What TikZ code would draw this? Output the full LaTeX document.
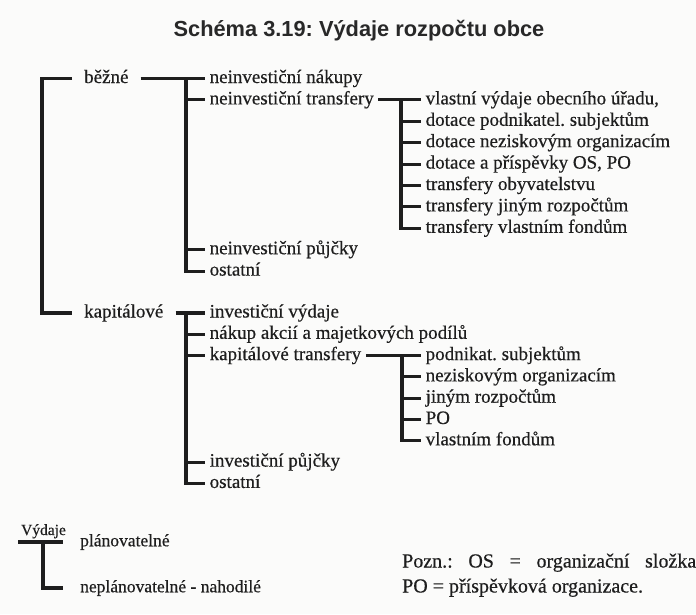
\documentclass[tikz,border=0pt]{standalone}
\usepackage{fontspec}
\setmainfont{Liberation Serif}[FakeBold=0.45]
\newfontfamily\titlefont{Liberation Sans}
\definecolor{inkc}{RGB}{30,30,30}
\definecolor{bgc}{RGB}{251,251,250}
\definecolor{titlec}{RGB}{40,40,40}
\begin{document}
\frenchspacing
\begin{tikzpicture}[x=1pt,y=-1pt,
  ln/.style={line width=3.1pt, draw=inkc, line cap=butt, line join=miter},
  lbl/.style={anchor=west, inner xsep=4.5pt, inner ysep=0pt, text height=13pt, text depth=4pt, font=\fontsize{19}{22}\selectfont, text=inkc},
  toplbl/.style={lbl, inner xsep=12pt},
  leg/.style={lbl, inner xsep=17.5pt, text height=12pt, text depth=3.5pt, font=\fontsize{17.5}{21}\selectfont},
  note/.style={anchor=base west, inner sep=0pt, font=\fontsize{20}{24}\selectfont, text=inkc}
]
\fill[bgc] (0,0) rectangle (696,614);
\useasboundingbox (0,0) rectangle (696,614);

% title
\node[font=\titlefont\bfseries\fontsize{21.8}{25}\selectfont, text=titlec] (title) at (359,31) {Schéma 3.19: Výdaje rozpočtu obce};

% top level
\node[toplbl] (bezne) at (72,78.5) {běžné};
\node[toplbl] (kap) at (72,313) {kapitálové};
\coordinate (v0) at (42,0);
\draw[ln] (bezne.west) -| (v0 |- kap.west) -- (kap.west);

% běžné
\node[lbl] (nnak) at (205,78.5) {neinvestiční nákupy};
\node[lbl] (ntr) at (205,99.9) {neinvestiční transfery};
\node[lbl] (npuj) at (205,249.7) {neinvestiční půjčky};
\node[lbl] (nost) at (205,271.1) {ostatní};
\coordinate (v1) at (186,0);
\draw[ln] (bezne.east) -- (nnak.west);
\draw[ln] (v1 |- nnak.west) -- (v1 |- nost.west) -- (nost.west);
\foreach \n in {ntr,npuj} \draw[ln] (v1 |- \n.west) -- (\n.west);

% neinvestiční transfery
\node[lbl] (t1) at (421,99.9) {vlastní výdaje obecního úřadu,};
\node[lbl] (t2) at (421,121.3) {dotace podnikatel. subjektům};
\node[lbl] (t3) at (421,142.7) {dotace neziskovým organizacím};
\node[lbl] (t4) at (421,164.1) {dotace a příspěvky OS, PO};
\node[lbl] (t5) at (421,185.5) {transfery obyvatelstvu};
\node[lbl] (t6) at (421,206.9) {transfery jiným rozpočtům};
\node[lbl] (t7) at (421,228.3) {transfery vlastním fondům};
\coordinate (v2) at (401,0);
\draw[ln] (ntr.east) -- (t1.west);
\draw[ln] (v2 |- t1.west) -- (v2 |- t7.west) -- (t7.west);
\foreach \n in {t2,t3,t4,t5,t6} \draw[ln] (v2 |- \n.west) -- (\n.west);

% kapitálové
\node[lbl] (k1) at (205,313) {investiční výdaje};
\node[lbl] (k2) at (205,334.3) {nákup akcií a majetkových podílů};
\node[lbl] (k3) at (205,355.6) {kapitálové transfery};
\node[lbl] (k4) at (205,462.1) {investiční půjčky};
\node[lbl] (k5) at (205,483.4) {ostatní};
\coordinate (v3) at (186,0);
\draw[ln] (kap.east) -- (k1.west);
\draw[ln] (v3 |- k1.west) -- (v3 |- k5.west) -- (k5.west);
\foreach \n in {k2,k3,k4} \draw[ln] (v3 |- \n.west) -- (\n.west);

% kapitálové transfery
\node[lbl] (c1) at (421,355.6) {podnikat. subjektům};
\node[lbl] (c2) at (421,376.9) {neziskovým organizacím};
\node[lbl] (c3) at (421,398.2) {jiným rozpočtům};
\node[lbl] (c4) at (421,419.5) {PO};
\node[lbl] (c5) at (421,440.8) {vlastním fondům};
\coordinate (v4) at (402,0);
\draw[ln] (k3.east) -- (c1.west);
\draw[ln] (v4 |- c1.west) -- (v4 |- c5.west) -- (c5.west);
\foreach \n in {c2,c3,c4} \draw[ln] (v4 |- \n.west) -- (\n.west);

% legend bottom left
\node[anchor=base, inner sep=0pt, font=\fontsize{15.5}{18}\selectfont, text=inkc] (vyd) at (43.5,535) {Výdaje};
\coordinate (vl) at (18,542);
\node[leg] (plan) at (62.5,542) {plánovatelné};
\node[leg] (neplan) at (62.5,588) {neplánovatelné - nahodilé};
\draw[ln] (vl) -- (plan.west);
\coordinate (vx) at (43,542);
\draw[ln] (vx) |- (neplan.west);

% note
\node[note] (pozn1) at (402,567.5) {\makebox[294pt][s]{Pozn.: OS = organizační složka}};
\node[note] (pozn2) at (402,592.5) {PO = příspěvková organizace.};
\end{tikzpicture}
\end{document}
